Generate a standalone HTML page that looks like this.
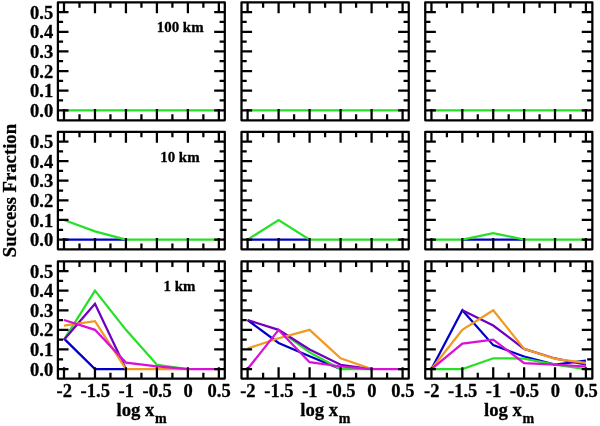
<!DOCTYPE html>
<html><head><meta charset="utf-8"><title>Success Fraction</title>
<style>html,body{margin:0;padding:0;background:#fff}svg{display:block}text{font-family:"Liberation Serif","Times New Roman",serif;font-weight:bold;fill:#000;stroke:#000;stroke-width:0.3px;stroke-linejoin:round}</style></head><body>
<svg width="600" height="426" viewBox="0 0 600 426">
<rect width="600" height="426" fill="#fff"/>
<g fill="none" stroke-width="2.25" stroke-linejoin="miter" stroke-miterlimit="10">
<polyline stroke="#26e026" points="64.00,110.25 94.97,110.25 125.94,110.25 156.91,110.25 187.88,110.25 218.85,110.25"/>
</g>
<path d="M64.00,2.35v10.85M64.00,120.25v-11.3M79.48,2.35v5.45M79.48,120.25v-5.9M94.97,2.35v10.85M94.97,120.25v-11.3M110.45,2.35v5.45M110.45,120.25v-5.9M125.94,2.35v10.85M125.94,120.25v-11.3M141.43,2.35v5.45M141.43,120.25v-5.9M156.91,2.35v10.85M156.91,120.25v-11.3M172.40,2.35v5.45M172.40,120.25v-5.9M187.88,2.35v10.85M187.88,120.25v-11.3M203.36,2.35v5.45M203.36,120.25v-5.9M218.85,2.35v10.85M218.85,120.25v-11.3M57.90,110.25h10.6M224.80,110.25h-10.6M57.90,100.44h5.2M224.80,100.44h-5.2M57.90,90.63h10.6M224.80,90.63h-10.6M57.90,80.82h5.2M224.80,80.82h-5.2M57.90,71.01h10.6M224.80,71.01h-10.6M57.90,61.20h5.2M224.80,61.20h-5.2M57.90,51.39h10.6M224.80,51.39h-10.6M57.90,41.58h5.2M224.80,41.58h-5.2M57.90,31.77h10.6M224.80,31.77h-10.6M57.90,21.96h5.2M224.80,21.96h-5.2M57.90,12.15h10.6M224.80,12.15h-10.6" stroke="#000" stroke-width="2.25" fill="none"/>
<rect x="57.90" y="2.35" width="166.90" height="117.90" fill="none" stroke="#000" stroke-width="2.25" stroke-linejoin="round"/>
<g fill="none" stroke-width="2.25" stroke-linejoin="miter" stroke-miterlimit="10">
<polyline stroke="#26e026" points="247.60,110.25 278.60,110.25 309.60,110.25 340.60,110.25 371.60,110.25 402.60,110.25"/>
</g>
<path d="M247.60,2.35v10.85M247.60,120.25v-11.3M263.10,2.35v5.45M263.10,120.25v-5.9M278.60,2.35v10.85M278.60,120.25v-11.3M294.10,2.35v5.45M294.10,120.25v-5.9M309.60,2.35v10.85M309.60,120.25v-11.3M325.10,2.35v5.45M325.10,120.25v-5.9M340.60,2.35v10.85M340.60,120.25v-11.3M356.10,2.35v5.45M356.10,120.25v-5.9M371.60,2.35v10.85M371.60,120.25v-11.3M387.10,2.35v5.45M387.10,120.25v-5.9M402.60,2.35v10.85M402.60,120.25v-11.3M241.50,110.25h10.6M408.75,110.25h-10.6M241.50,100.44h5.2M408.75,100.44h-5.2M241.50,90.63h10.6M408.75,90.63h-10.6M241.50,80.82h5.2M408.75,80.82h-5.2M241.50,71.01h10.6M408.75,71.01h-10.6M241.50,61.20h5.2M408.75,61.20h-5.2M241.50,51.39h10.6M408.75,51.39h-10.6M241.50,41.58h5.2M408.75,41.58h-5.2M241.50,31.77h10.6M408.75,31.77h-10.6M241.50,21.96h5.2M408.75,21.96h-5.2M241.50,12.15h10.6M408.75,12.15h-10.6" stroke="#000" stroke-width="2.25" fill="none"/>
<rect x="241.50" y="2.35" width="167.25" height="117.90" fill="none" stroke="#000" stroke-width="2.25" stroke-linejoin="round"/>
<g fill="none" stroke-width="2.25" stroke-linejoin="miter" stroke-miterlimit="10">
<polyline stroke="#26e026" points="431.45,110.25 462.34,110.25 493.23,110.25 524.12,110.25 555.01,110.25 585.90,110.25"/>
</g>
<path d="M431.45,2.35v10.85M431.45,120.25v-11.3M446.89,2.35v5.45M446.89,120.25v-5.9M462.34,2.35v10.85M462.34,120.25v-11.3M477.78,2.35v5.45M477.78,120.25v-5.9M493.23,2.35v10.85M493.23,120.25v-11.3M508.67,2.35v5.45M508.67,120.25v-5.9M524.12,2.35v10.85M524.12,120.25v-11.3M539.56,2.35v5.45M539.56,120.25v-5.9M555.01,2.35v10.85M555.01,120.25v-11.3M570.45,2.35v5.45M570.45,120.25v-5.9M585.90,2.35v10.85M585.90,120.25v-11.3M425.25,110.25h10.6M592.35,110.25h-10.6M425.25,100.44h5.2M592.35,100.44h-5.2M425.25,90.63h10.6M592.35,90.63h-10.6M425.25,80.82h5.2M592.35,80.82h-5.2M425.25,71.01h10.6M592.35,71.01h-10.6M425.25,61.20h5.2M592.35,61.20h-5.2M425.25,51.39h10.6M592.35,51.39h-10.6M425.25,41.58h5.2M592.35,41.58h-5.2M425.25,31.77h10.6M592.35,31.77h-10.6M425.25,21.96h5.2M592.35,21.96h-5.2M425.25,12.15h10.6M592.35,12.15h-10.6" stroke="#000" stroke-width="2.25" fill="none"/>
<rect x="425.25" y="2.35" width="167.10" height="117.90" fill="none" stroke="#000" stroke-width="2.25" stroke-linejoin="round"/>
<text x="53.2" y="116.80" font-size="18.5" text-anchor="end">0.0</text>
<text x="53.2" y="97.18" font-size="18.5" text-anchor="end">0.1</text>
<text x="53.2" y="77.56" font-size="18.5" text-anchor="end">0.2</text>
<text x="53.2" y="57.94" font-size="18.5" text-anchor="end">0.3</text>
<text x="53.2" y="38.32" font-size="18.5" text-anchor="end">0.4</text>
<text x="53.2" y="18.70" font-size="18.5" text-anchor="end">0.5</text>
<text x="180.2" y="31.8" font-size="14.9" text-anchor="middle">100 km</text>
<g fill="none" stroke-width="2.25" stroke-linejoin="miter" stroke-miterlimit="10">
<polyline stroke="#0000c8" points="64.00,239.60 94.97,239.60 125.94,239.60"/>
<polyline stroke="#26e026" points="64.00,219.98 94.97,231.36 125.94,239.60 156.91,239.60 187.88,239.60 218.85,239.60"/>
</g>
<path d="M64.00,131.90v10.85M64.00,249.30v-11.3M79.48,131.90v5.45M79.48,249.30v-5.9M94.97,131.90v10.85M94.97,249.30v-11.3M110.45,131.90v5.45M110.45,249.30v-5.9M125.94,131.90v10.85M125.94,249.30v-11.3M141.43,131.90v5.45M141.43,249.30v-5.9M156.91,131.90v10.85M156.91,249.30v-11.3M172.40,131.90v5.45M172.40,249.30v-5.9M187.88,131.90v10.85M187.88,249.30v-11.3M203.36,131.90v5.45M203.36,249.30v-5.9M218.85,131.90v10.85M218.85,249.30v-11.3M57.90,239.60h10.6M224.80,239.60h-10.6M57.90,229.79h5.2M224.80,229.79h-5.2M57.90,219.98h10.6M224.80,219.98h-10.6M57.90,210.17h5.2M224.80,210.17h-5.2M57.90,200.36h10.6M224.80,200.36h-10.6M57.90,190.55h5.2M224.80,190.55h-5.2M57.90,180.74h10.6M224.80,180.74h-10.6M57.90,170.93h5.2M224.80,170.93h-5.2M57.90,161.12h10.6M224.80,161.12h-10.6M57.90,151.31h5.2M224.80,151.31h-5.2M57.90,141.50h10.6M224.80,141.50h-10.6" stroke="#000" stroke-width="2.25" fill="none"/>
<rect x="57.90" y="131.90" width="166.90" height="117.40" fill="none" stroke="#000" stroke-width="2.25" stroke-linejoin="round"/>
<g fill="none" stroke-width="2.25" stroke-linejoin="miter" stroke-miterlimit="10">
<polyline stroke="#0000c8" points="247.60,239.60 278.60,239.60 309.60,239.60"/>
<polyline stroke="#26e026" points="247.60,239.60 278.60,219.98 309.60,239.60 340.60,239.60 371.60,239.60 402.60,239.60"/>
</g>
<path d="M247.60,131.90v10.85M247.60,249.30v-11.3M263.10,131.90v5.45M263.10,249.30v-5.9M278.60,131.90v10.85M278.60,249.30v-11.3M294.10,131.90v5.45M294.10,249.30v-5.9M309.60,131.90v10.85M309.60,249.30v-11.3M325.10,131.90v5.45M325.10,249.30v-5.9M340.60,131.90v10.85M340.60,249.30v-11.3M356.10,131.90v5.45M356.10,249.30v-5.9M371.60,131.90v10.85M371.60,249.30v-11.3M387.10,131.90v5.45M387.10,249.30v-5.9M402.60,131.90v10.85M402.60,249.30v-11.3M241.50,239.60h10.6M408.75,239.60h-10.6M241.50,229.79h5.2M408.75,229.79h-5.2M241.50,219.98h10.6M408.75,219.98h-10.6M241.50,210.17h5.2M408.75,210.17h-5.2M241.50,200.36h10.6M408.75,200.36h-10.6M241.50,190.55h5.2M408.75,190.55h-5.2M241.50,180.74h10.6M408.75,180.74h-10.6M241.50,170.93h5.2M408.75,170.93h-5.2M241.50,161.12h10.6M408.75,161.12h-10.6M241.50,151.31h5.2M408.75,151.31h-5.2M241.50,141.50h10.6M408.75,141.50h-10.6" stroke="#000" stroke-width="2.25" fill="none"/>
<rect x="241.50" y="131.90" width="167.25" height="117.40" fill="none" stroke="#000" stroke-width="2.25" stroke-linejoin="round"/>
<g fill="none" stroke-width="2.25" stroke-linejoin="miter" stroke-miterlimit="10">
<polyline stroke="#0000c8" points="462.34,239.60 493.23,239.60 524.12,239.60"/>
<polyline stroke="#26e026" points="431.45,239.60 462.34,239.60 493.23,233.13 524.12,239.60 555.01,239.60 585.90,239.60"/>
</g>
<path d="M431.45,131.90v10.85M431.45,249.30v-11.3M446.89,131.90v5.45M446.89,249.30v-5.9M462.34,131.90v10.85M462.34,249.30v-11.3M477.78,131.90v5.45M477.78,249.30v-5.9M493.23,131.90v10.85M493.23,249.30v-11.3M508.67,131.90v5.45M508.67,249.30v-5.9M524.12,131.90v10.85M524.12,249.30v-11.3M539.56,131.90v5.45M539.56,249.30v-5.9M555.01,131.90v10.85M555.01,249.30v-11.3M570.45,131.90v5.45M570.45,249.30v-5.9M585.90,131.90v10.85M585.90,249.30v-11.3M425.25,239.60h10.6M592.35,239.60h-10.6M425.25,229.79h5.2M592.35,229.79h-5.2M425.25,219.98h10.6M592.35,219.98h-10.6M425.25,210.17h5.2M592.35,210.17h-5.2M425.25,200.36h10.6M592.35,200.36h-10.6M425.25,190.55h5.2M592.35,190.55h-5.2M425.25,180.74h10.6M592.35,180.74h-10.6M425.25,170.93h5.2M592.35,170.93h-5.2M425.25,161.12h10.6M592.35,161.12h-10.6M425.25,151.31h5.2M592.35,151.31h-5.2M425.25,141.50h10.6M592.35,141.50h-10.6" stroke="#000" stroke-width="2.25" fill="none"/>
<rect x="425.25" y="131.90" width="167.10" height="117.40" fill="none" stroke="#000" stroke-width="2.25" stroke-linejoin="round"/>
<text x="53.2" y="246.15" font-size="18.5" text-anchor="end">0.0</text>
<text x="53.2" y="226.53" font-size="18.5" text-anchor="end">0.1</text>
<text x="53.2" y="206.91" font-size="18.5" text-anchor="end">0.2</text>
<text x="53.2" y="187.29" font-size="18.5" text-anchor="end">0.3</text>
<text x="53.2" y="167.67" font-size="18.5" text-anchor="end">0.4</text>
<text x="53.2" y="148.05" font-size="18.5" text-anchor="end">0.5</text>
<text x="179.9" y="161.6" font-size="14.9" text-anchor="middle">10 km</text>
<g fill="none" stroke-width="2.25" stroke-linejoin="miter" stroke-miterlimit="10">
<polyline stroke="#0000c8" points="64.00,338.67 94.97,369.05 125.94,369.05"/>
<polyline stroke="#26e026" points="64.00,339.65 94.97,290.65 125.94,329.85 156.91,364.74 187.88,369.05"/>
<polyline stroke="#7000c0" points="64.00,339.65 94.97,303.78 125.94,369.05"/>
<polyline stroke="#f09a20" points="64.00,325.54 94.97,321.23 125.94,369.05 156.91,369.05 187.88,369.05"/>
<polyline stroke="#d810d8" points="64.00,320.05 94.97,329.85 125.94,362.58 156.91,366.31 187.88,369.05 218.85,369.05"/>
</g>
<path d="M64.00,261.45v10.85M64.00,378.60v-11.3M79.48,261.45v5.45M79.48,378.60v-5.9M94.97,261.45v10.85M94.97,378.60v-11.3M110.45,261.45v5.45M110.45,378.60v-5.9M125.94,261.45v10.85M125.94,378.60v-11.3M141.43,261.45v5.45M141.43,378.60v-5.9M156.91,261.45v10.85M156.91,378.60v-11.3M172.40,261.45v5.45M172.40,378.60v-5.9M187.88,261.45v10.85M187.88,378.60v-11.3M203.36,261.45v5.45M203.36,378.60v-5.9M218.85,261.45v10.85M218.85,378.60v-11.3M57.90,369.05h10.6M224.80,369.05h-10.6M57.90,359.25h5.2M224.80,359.25h-5.2M57.90,349.45h10.6M224.80,349.45h-10.6M57.90,339.65h5.2M224.80,339.65h-5.2M57.90,329.85h10.6M224.80,329.85h-10.6M57.90,320.05h5.2M224.80,320.05h-5.2M57.90,310.25h10.6M224.80,310.25h-10.6M57.90,300.45h5.2M224.80,300.45h-5.2M57.90,290.65h10.6M224.80,290.65h-10.6M57.90,280.85h5.2M224.80,280.85h-5.2M57.90,271.05h10.6M224.80,271.05h-10.6" stroke="#000" stroke-width="2.25" fill="none"/>
<rect x="57.90" y="261.45" width="166.90" height="117.15" fill="none" stroke="#000" stroke-width="2.25" stroke-linejoin="round"/>
<g fill="none" stroke-width="2.25" stroke-linejoin="miter" stroke-miterlimit="10">
<polyline stroke="#0000c8" points="247.60,320.05 278.60,342.98 309.60,356.31 340.60,369.05"/>
<polyline stroke="#26e026" points="278.60,329.85 309.60,352.39 340.60,369.05 371.60,369.05"/>
<polyline stroke="#7000c0" points="247.60,320.05 278.60,329.85 309.60,349.45 340.60,364.74 371.60,369.05"/>
<polyline stroke="#f09a20" points="247.60,348.47 278.60,338.28 309.60,329.85 340.60,358.27 371.60,369.05"/>
<polyline stroke="#d810d8" points="247.60,369.05 278.60,329.85 309.60,362.19 340.60,366.50 371.60,369.05 402.60,369.05"/>
</g>
<path d="M247.60,261.45v10.85M247.60,378.60v-11.3M263.10,261.45v5.45M263.10,378.60v-5.9M278.60,261.45v10.85M278.60,378.60v-11.3M294.10,261.45v5.45M294.10,378.60v-5.9M309.60,261.45v10.85M309.60,378.60v-11.3M325.10,261.45v5.45M325.10,378.60v-5.9M340.60,261.45v10.85M340.60,378.60v-11.3M356.10,261.45v5.45M356.10,378.60v-5.9M371.60,261.45v10.85M371.60,378.60v-11.3M387.10,261.45v5.45M387.10,378.60v-5.9M402.60,261.45v10.85M402.60,378.60v-11.3M241.50,369.05h10.6M408.75,369.05h-10.6M241.50,359.25h5.2M408.75,359.25h-5.2M241.50,349.45h10.6M408.75,349.45h-10.6M241.50,339.65h5.2M408.75,339.65h-5.2M241.50,329.85h10.6M408.75,329.85h-10.6M241.50,320.05h5.2M408.75,320.05h-5.2M241.50,310.25h10.6M408.75,310.25h-10.6M241.50,300.45h5.2M408.75,300.45h-5.2M241.50,290.65h10.6M408.75,290.65h-10.6M241.50,280.85h5.2M408.75,280.85h-5.2M241.50,271.05h10.6M408.75,271.05h-10.6" stroke="#000" stroke-width="2.25" fill="none"/>
<rect x="241.50" y="261.45" width="167.25" height="117.15" fill="none" stroke="#000" stroke-width="2.25" stroke-linejoin="round"/>
<g fill="none" stroke-width="2.25" stroke-linejoin="miter" stroke-miterlimit="10">
<polyline stroke="#0000c8" points="431.45,369.05 462.34,310.25 493.23,345.14 524.12,356.51 555.01,364.54 585.90,360.62"/>
<polyline stroke="#26e026" points="431.45,369.05 462.34,369.05 493.23,358.27 524.12,358.66 555.01,364.54 585.90,369.05"/>
<polyline stroke="#7000c0" points="462.34,310.25 493.23,325.54 524.12,348.86 555.01,358.47 585.90,364.74"/>
<polyline stroke="#f09a20" points="431.45,369.05 462.34,329.85 493.23,310.25 524.12,348.86 555.01,358.86 585.90,362.78"/>
<polyline stroke="#d810d8" points="431.45,369.05 462.34,343.57 493.23,339.65 524.12,363.17 555.01,364.54 585.90,366.50"/>
</g>
<path d="M431.45,261.45v10.85M431.45,378.60v-11.3M446.89,261.45v5.45M446.89,378.60v-5.9M462.34,261.45v10.85M462.34,378.60v-11.3M477.78,261.45v5.45M477.78,378.60v-5.9M493.23,261.45v10.85M493.23,378.60v-11.3M508.67,261.45v5.45M508.67,378.60v-5.9M524.12,261.45v10.85M524.12,378.60v-11.3M539.56,261.45v5.45M539.56,378.60v-5.9M555.01,261.45v10.85M555.01,378.60v-11.3M570.45,261.45v5.45M570.45,378.60v-5.9M585.90,261.45v10.85M585.90,378.60v-11.3M425.25,369.05h10.6M592.35,369.05h-10.6M425.25,359.25h5.2M592.35,359.25h-5.2M425.25,349.45h10.6M592.35,349.45h-10.6M425.25,339.65h5.2M592.35,339.65h-5.2M425.25,329.85h10.6M592.35,329.85h-10.6M425.25,320.05h5.2M592.35,320.05h-5.2M425.25,310.25h10.6M592.35,310.25h-10.6M425.25,300.45h5.2M592.35,300.45h-5.2M425.25,290.65h10.6M592.35,290.65h-10.6M425.25,280.85h5.2M592.35,280.85h-5.2M425.25,271.05h10.6M592.35,271.05h-10.6" stroke="#000" stroke-width="2.25" fill="none"/>
<rect x="425.25" y="261.45" width="167.10" height="117.15" fill="none" stroke="#000" stroke-width="2.25" stroke-linejoin="round"/>
<text x="53.2" y="375.60" font-size="18.5" text-anchor="end">0.0</text>
<text x="53.2" y="356.00" font-size="18.5" text-anchor="end">0.1</text>
<text x="53.2" y="336.40" font-size="18.5" text-anchor="end">0.2</text>
<text x="53.2" y="316.80" font-size="18.5" text-anchor="end">0.3</text>
<text x="53.2" y="297.20" font-size="18.5" text-anchor="end">0.4</text>
<text x="53.2" y="277.60" font-size="18.5" text-anchor="end">0.5</text>
<text x="179.4" y="290.65" font-size="14.9" text-anchor="middle">1 km</text>
<text x="64.30" y="397.0" font-size="18.5" text-anchor="middle">-2</text>
<text x="95.27" y="397.0" font-size="18.5" text-anchor="middle">-1.5</text>
<text x="126.24" y="397.0" font-size="18.5" text-anchor="middle">-1</text>
<text x="157.21" y="397.0" font-size="18.5" text-anchor="middle">-0.5</text>
<text x="188.18" y="397.0" font-size="18.5" text-anchor="middle">0</text>
<text x="219.15" y="397.0" font-size="18.5" text-anchor="middle">0.5</text>
<text x="116.55" y="415.6" font-size="18.7">log x<tspan font-size="14" dy="7.3" dx="0.5">m</tspan></text>
<text x="247.90" y="397.0" font-size="18.5" text-anchor="middle">-2</text>
<text x="278.90" y="397.0" font-size="18.5" text-anchor="middle">-1.5</text>
<text x="309.90" y="397.0" font-size="18.5" text-anchor="middle">-1</text>
<text x="340.90" y="397.0" font-size="18.5" text-anchor="middle">-0.5</text>
<text x="371.90" y="397.0" font-size="18.5" text-anchor="middle">0</text>
<text x="402.90" y="397.0" font-size="18.5" text-anchor="middle">0.5</text>
<text x="300.32" y="415.6" font-size="18.7">log x<tspan font-size="14" dy="7.3" dx="0.5">m</tspan></text>
<text x="431.75" y="397.0" font-size="18.5" text-anchor="middle">-2</text>
<text x="462.64" y="397.0" font-size="18.5" text-anchor="middle">-1.5</text>
<text x="493.53" y="397.0" font-size="18.5" text-anchor="middle">-1</text>
<text x="524.42" y="397.0" font-size="18.5" text-anchor="middle">-0.5</text>
<text x="555.31" y="397.0" font-size="18.5" text-anchor="middle">0</text>
<text x="586.20" y="397.0" font-size="18.5" text-anchor="middle">0.5</text>
<text x="484.00" y="415.6" font-size="18.7">log x<tspan font-size="14" dy="7.3" dx="0.5">m</tspan></text>
<text transform="translate(15.6,190.6) rotate(-90)" font-size="18.68" text-anchor="middle">Success Fraction</text>
</svg></body></html>
